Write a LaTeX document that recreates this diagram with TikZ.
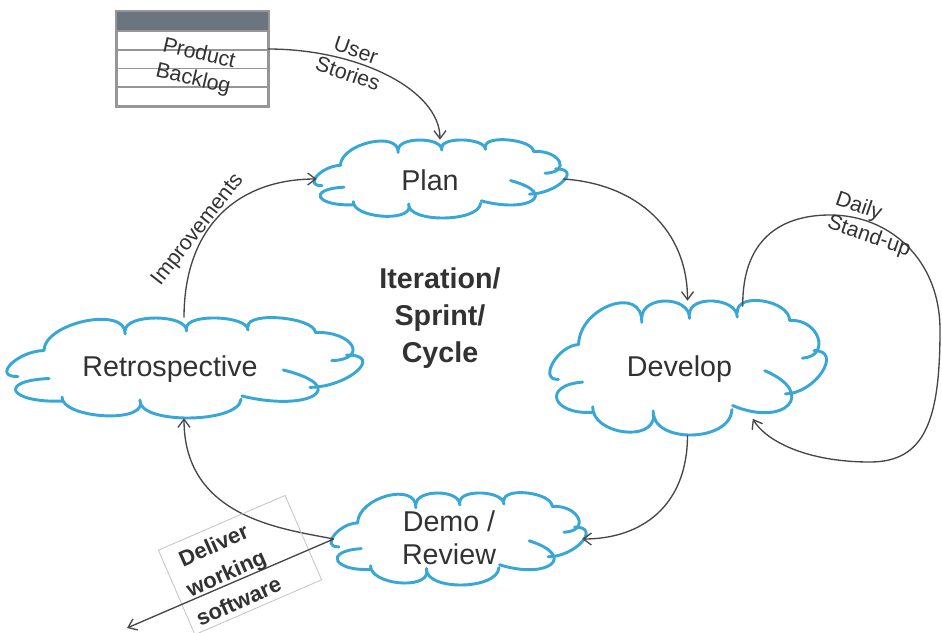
\documentclass[tikz,border=0pt]{standalone}
\usepackage{fontspec}
\setmainfont{Liberation Sans}
\usetikzlibrary{shapes.geometric,arrows.meta}
\definecolor{cloudblue}{RGB}{56,167,213}
\definecolor{inkgray}{RGB}{50,50,50}
\definecolor{linegray}{RGB}{70,70,70}
\definecolor{headgray}{RGB}{108,117,127}
\definecolor{gridgray}{RGB}{150,150,150}
\definecolor{boxgray}{RGB}{195,195,195}

% one bump of a cloud: from (#1,#2) through (#3,#4) at its middle to (#5,#6)
\newcommand\cloudbump[6]{%
  \draw[cloudline] (#1,#2) .. controls
    ({(#1)/3+4*(#3)/3-2*(#5)/3},{(#2)/3+4*(#4)/3-2*(#6)/3}) and
    ({-2*(#1)/3+4*(#3)/3+(#5)/3},{-2*(#2)/3+4*(#4)/3+(#6)/3}) .. (#5,#6);}

% cloud outline round a node: #1 node, #2 half width, #3 half height (px)
\newcommand\stagecloud[3]{%
  \begin{scope}[shift={(#1.center)}, xscale=#2, yscale=#3]
    \cloudbump{-0.78}{0.21}{-0.97}{0.47}{-0.70}{0.66}
    \cloudbump{-0.96}{0.17}{-1.00}{-0.08}{-0.81}{-0.35}
    \cloudbump{-0.81}{-0.35}{-0.57}{-0.94}{-0.34}{-0.68}
    \cloudbump{-0.34}{-0.75}{-0.16}{-1.00}{0.015}{-0.74}
    \cloudbump{0.015}{-0.80}{0.19}{-1.00}{0.37}{-0.76}
    \cloudbump{0.37}{-0.83}{0.56}{-1.00}{0.76}{-0.71}
    \cloudbump{0.76}{-0.71}{0.97}{-0.45}{0.854}{-0.147}
    \cloudbump{0.94}{-0.26}{1.00}{0.06}{0.728}{0.387}
    \cloudbump{0.574}{0.04}{0.75}{0.55}{0.335}{0.56}
    \cloudbump{0.33}{0.62}{0.03}{1.00}{-0.255}{0.64}
    \cloudbump{-0.25}{0.71}{-0.48}{0.95}{-0.705}{0.58}
  \end{scope}}

\begin{document}
\begin{tikzpicture}[x=0.75pt,y=-0.75pt,
  cloudline/.style={draw=cloudblue, line width=2.2pt, line cap=round},
  stagebox/.style={ellipse, draw=none, inner sep=0pt},
  stagetext/.style={text=inkgray, font=\fontsize{21.5}{25}\selectfont, align=center, inner sep=0pt},
  conn/.style={draw=linegray, line width=1pt, -{Straight Barb[length=6pt,width=9pt]}},
  lbl/.style={text=inkgray, font=\fontsize{16}{18.5}\selectfont, align=center, inner sep=0pt}]
\useasboundingbox (0,0) rectangle (942,632);

% product backlog table
\node[draw=gridgray, line width=1.2pt, rectangle, minimum width=113.25pt,
  minimum height=70.5pt, inner sep=0pt] (backlog) at (192.5,59) {};
\fill[headgray] (backlog.north west) rectangle (268,31);
\foreach \yy in {31,50,68.5,87}
  \draw[gridgray, line width=1.2pt] (117,\yy) -- (268,\yy);
\draw[gridgray, line width=1.2pt] (backlog.north west) rectangle (backlog.south east);
\node[lbl, rotate=-13, font=\fontsize{16}{19.5}\selectfont] (backlogtext) at (196,67) {Product\\Backlog};
\coordinate (bkout) at (268,49);

% stages of the iteration
\node[stagebox, minimum width=184.5pt, minimum height=58.5pt] (plan) at (440,179) {};
\node[stagebox, minimum width=201.75pt, minimum height=100.5pt] (dev) at (687.5,368) {};
\node[stagebox, minimum width=186pt, minimum height=69pt] (demo) at (458,539) {};
\node[stagebox, minimum width=259.5pt, minimum height=75pt] (retro) at (184,368) {};
\stagecloud{plan}{123}{39}
\stagecloud{dev}{134.5}{67}
\stagecloud{demo}{124}{46}
\stagecloud{retro}{173}{50}

\node[stagetext, anchor=base] (plantext) at (430,190) {Plan};
\node[stagetext, anchor=base] (devtext) at (679.5,376) {Develop};
\node[stagetext, anchor=base] (retrotext) at (170,376) {Retrospective};
\node[stagetext, font=\fontsize{21.5}{24.75}\selectfont] (demotext) at (449,538) {Demo /\\Review};

\node[text=inkgray, font=\bfseries\fontsize{21.5}{27.75}\selectfont, align=center, inner sep=0pt] (sprint) at (440,318) {Iteration/\\Sprint/\\Cycle};

% cycle connectors
\draw[conn] (bkout) .. controls +(90,0) and +(0,-50) .. (plan.north);
\draw[conn] (plan.east) .. controls +(75,5) and +(0,-70) .. (dev.north);
\draw[conn] (dev.south) .. controls +(0,70) and +(60,0) .. (demo.east);
\draw[conn] (demo.west) .. controls +(-50,-10) and +(0,100) .. (retro.south);
\draw[conn] (retro.north) .. controls +(0,-90) and +(-80,0) .. (plan.west);

% daily stand-up loop
\draw[conn] (dev.48) .. controls (742,240) and (780,215) .. (830,215)
  .. controls (890,215) and (940,260) .. (940,330)
  .. controls (940,420) and (925,462) .. (870,462)
  .. controls (805,462) and (765,440) .. ([yshift=6pt]dev.-42);

% labels
\node[lbl, rotate=-19] (userstories) at (352,62) {User\\Stories};
\node[lbl, rotate=52] (improve) at (198,230) {Improvements};
\node[lbl, rotate=-19, align=left] (standup) at (873,225) {Daily\\Stand-up};

% delivery
\node[draw=boxgray, line width=0.6pt, rotate=23.4, minimum width=103.5pt,
  minimum height=69pt, inner sep=0pt] (deliverbox) at (240,565) {};
\coordinate (shipout) at (127,628);
\draw[conn] (demo.west) -- (shipout);
\node[text=inkgray, rotate=24, font=\bfseries\fontsize{16.5}{23}\selectfont,
  align=center, inner sep=0pt] (delivertext) at (226,573) {Deliver\\working\\software};
\end{tikzpicture}
\end{document}
